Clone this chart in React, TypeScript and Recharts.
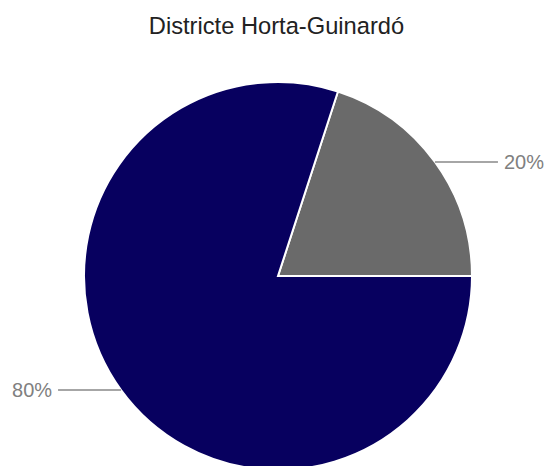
import { Cell, Pie, PieChart } from "recharts";

const categories = ["Sí", "No"];
const values = [20, 80];
const COLORS = ["#6a6a6a", "#07005f"];

const RADIAN = Math.PI / 180;

const renderLabel = (props: any) => {
  const { cx, cy, midAngle, outerRadius, percent } = props;
  const x = cx + outerRadius * Math.cos(-midAngle * RADIAN);
  const y = cy + outerRadius * Math.sin(-midAngle * RADIAN);
  const right = x > cx;
  const x2 = right ? x + 63 : x - 63;
  return (
    <g>
      <line x1={x} y1={y} x2={x2} y2={y} stroke="#888" strokeWidth={1.5} />
      <text
        x={right ? x2 + 6 : x2 - 6}
        y={y}
        dy={7}
        textAnchor={right ? "start" : "end"}
        fill="#808080"
        fontSize={20}
        fontFamily="Arial, 'Liberation Sans', sans-serif"
      >
        {`${Math.round(percent * 100)}%`}
      </text>
    </g>
  );
};

export default function App() {
  const data = categories.map((name, i) => ({ name, value: values[i] }));

  return (
    <div style={{ position: "absolute", left: 0, top: 0, width: 551, height: 466, background: "#fff" }}>
      <div
        style={{
          position: "absolute",
          top: 13,
          left: 0,
          width: 553,
          textAlign: "center",
          fontFamily: "Arial, 'Liberation Sans', sans-serif",
          fontSize: 23.7,
          color: "#222",
        }}
      >
        Districte Horta-Guinardó
      </div>
      <PieChart width={551} height={466}>
        <Pie
          data={data}
          dataKey="value"
          nameKey="name"
          cx={273}
          cy={271}
          outerRadius={194}
          startAngle={0}
          endAngle={360}
          stroke="#fff"
          strokeWidth={2}
          label={renderLabel}
          labelLine={false}
          isAnimationActive={false}
        >
          {data.map((entry, index) => (
            <Cell key={entry.name} fill={COLORS[index % COLORS.length]} />
          ))}
        </Pie>
      </PieChart>
    </div>
  );
}
